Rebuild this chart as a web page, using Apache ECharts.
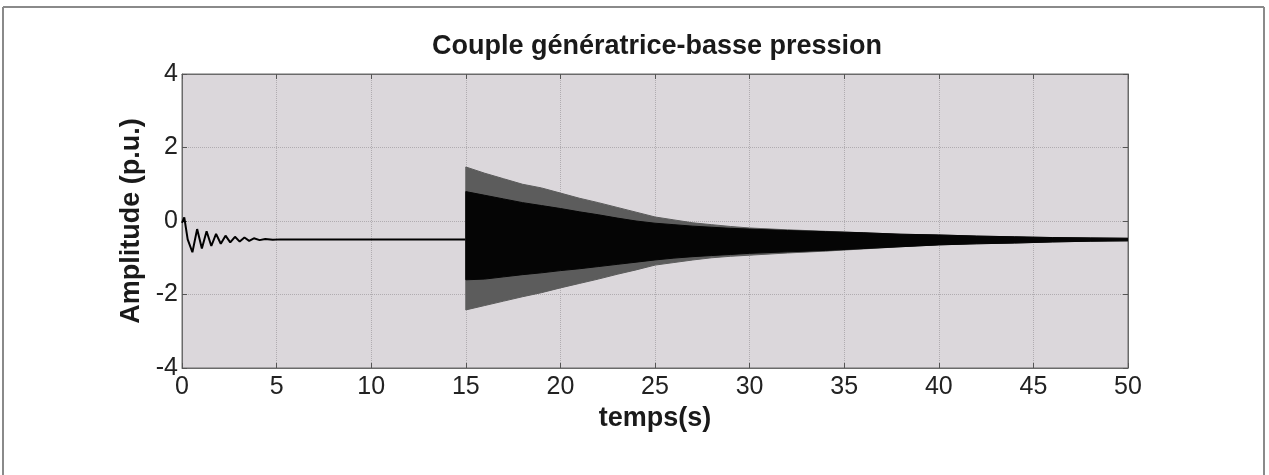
<!DOCTYPE html>
<html>
<head>
<meta charset="utf-8">
<script src="https://cdn.jsdelivr.net/npm/echarts@6/dist/echarts.min.js"></script>
<style>
html,body{margin:0;padding:0;background:#fff;}
#chart{width:1269px;height:475px;}
</style>
</head>
<body>
<div id="chart"></div>
<script>
// ---- data ----
const titleText = "Couple génératrice-basse pression";
const xName = "temps(s)";
const yName = "Amplitude (p.u.)";
const xTickValues = [0, 5, 10, 15, 20, 25, 30, 35, 40, 45, 50];
const yTickValues = [-4, -2, 0, 2, 4];

// start-up transient (time s, torque p.u.)
const transientTime  = [0, 0.12, 0.3, 0.55, 0.8, 1.05, 1.3, 1.55, 1.8, 2.05, 2.3, 2.55, 2.8, 3.05, 3.3, 3.55, 3.8, 4.1, 4.4, 4.8, 5.2, 10, 15];
const transientValue = [-0.05, 0.1, -0.5, -0.85, -0.22, -0.75, -0.28, -0.68, -0.35, -0.62, -0.4, -0.58, -0.43, -0.56, -0.45, -0.54, -0.47, -0.52, -0.49, -0.51, -0.5, -0.5, -0.5];

// envelope of the fast oscillation after the disturbance at t = 15 s
const envTime    = [15, 16, 17, 18, 19, 20, 21, 22, 23, 24, 25, 26, 27, 28, 29, 30, 32, 34, 36, 38, 40, 42, 44, 46, 48, 50];
const outerUpper = [1.47, 1.3, 1.15, 1.0, 0.9, 0.76, 0.62, 0.5, 0.37, 0.24, 0.11, 0.03, -0.05, -0.1, -0.15, -0.19, -0.24, -0.28, -0.32, -0.36, -0.38, -0.41, -0.43, -0.45, -0.46, -0.47];
const outerLower = [-2.42, -2.3, -2.18, -2.06, -1.95, -1.82, -1.7, -1.58, -1.45, -1.33, -1.2, -1.13, -1.06, -1.0, -0.96, -0.93, -0.87, -0.82, -0.76, -0.7, -0.65, -0.62, -0.6, -0.57, -0.55, -0.54];
const innerUpper = [0.8, 0.7, 0.6, 0.5, 0.42, 0.34, 0.25, 0.17, 0.08, 0.0, -0.06, -0.1, -0.14, -0.17, -0.2, -0.22, -0.26, -0.29, -0.32, -0.36, -0.38, -0.41, -0.43, -0.45, -0.46, -0.47];
const innerLower = [-1.6, -1.58, -1.52, -1.46, -1.41, -1.35, -1.3, -1.24, -1.18, -1.12, -1.06, -1.01, -0.97, -0.94, -0.91, -0.88, -0.84, -0.8, -0.75, -0.7, -0.65, -0.62, -0.6, -0.57, -0.55, -0.54];

// ---- chart ----
const FONT = '"Liberation Sans", Arial, sans-serif';
const chart = echarts.init(document.getElementById('chart'), null, {renderer: 'canvas'});

function band(times, up, lo, color, z) {
  return {
    type: 'custom',
    xAxisIndex: 0, yAxisIndex: 0,
    data: [0],
    z: z,
    silent: true,
    clip: true,
    renderItem: function (params, api) {
      const pts = [];
      for (let i = 0; i < times.length; i++) pts.push(api.coord([times[i], up[i]]));
      for (let i = times.length - 1; i >= 0; i--) pts.push(api.coord([times[i], lo[i]]));
      return {type: 'polygon', shape: {points: pts}, style: {fill: color, stroke: color, lineWidth: 1}};
    }
  };
}

const transientData = transientTime.map((t, i) => [t, transientValue[i]]);

const option = {
  animation: false,
  backgroundColor: '#ffffff',
  title: {
    text: titleText,
    left: 652, top: 28, textAlign: 'center',
    textStyle: {fontFamily: FONT, fontSize: 27, fontWeight: 'bold', color: '#1a1a1a'}
  },
  grid: {
    left: 182, right: 141, top: 74, bottom: 107,
    show: true, backgroundColor: '#dbd7db', borderColor: '#6a6a6a', borderWidth: 1
  },
  xAxis: [{
    type: 'value', min: 0, max: 50, interval: 5, position: 'bottom',
    name: xName, nameLocation: 'middle', nameGap: 30,
    nameTextStyle: {fontFamily: FONT, fontSize: 27, fontWeight: 'bold', color: '#1a1a1a'},
    axisLine: {show: true, onZero: false, lineStyle: {color: '#6a6a6a', width: 1}},
    axisTick: {show: true, inside: true, length: 5, lineStyle: {color: '#555'}},
    axisLabel: {fontFamily: FONT, fontSize: 25, color: '#222', margin: 7,
      formatter: v => xTickValues.includes(v) ? String(v) : ''},
    splitLine: {show: true, lineStyle: {color: '#b0acb0', type: 'dotted', width: 1}}
  }, {
    type: 'value', min: 0, max: 50, interval: 5, position: 'top',
    axisLine: {show: true, onZero: false, lineStyle: {color: '#6a6a6a', width: 1}},
    axisTick: {show: true, inside: true, length: 5, lineStyle: {color: '#555'}},
    axisLabel: {show: false}, splitLine: {show: false}
  }],
  yAxis: [{
    type: 'value', min: -4, max: 4, interval: 2, position: 'left',
    name: yName, nameLocation: 'middle', nameGap: 34,
    nameTextStyle: {fontFamily: FONT, fontSize: 27, fontWeight: 'bold', color: '#1a1a1a'},
    axisLine: {show: true, onZero: false, lineStyle: {color: '#6a6a6a', width: 1}},
    axisTick: {show: true, inside: true, length: 5, lineStyle: {color: '#555'}},
    axisLabel: {fontFamily: FONT, fontSize: 25, color: '#222', margin: 4,
      formatter: v => yTickValues.includes(v) ? String(v) : ''},
    splitLine: {show: true, lineStyle: {color: '#b0acb0', type: 'dotted', width: 1}}
  }, {
    type: 'value', min: -4, max: 4, interval: 2, position: 'right',
    axisLine: {show: true, onZero: false, lineStyle: {color: '#6a6a6a', width: 1}},
    axisTick: {show: true, inside: true, length: 5, lineStyle: {color: '#555'}},
    axisLabel: {show: false}, splitLine: {show: false}
  }],
  series: [
    {
      type: 'line', xAxisIndex: 0, yAxisIndex: 0,
      data: transientData, showSymbol: false, symbol: 'none',
      lineStyle: {color: '#000', width: 2}, z: 3
    },
    band(envTime, outerUpper, outerLower, '#5c5c5c', 4),
    band(envTime, innerUpper, innerLower, '#050505', 5)
  ],
  graphic: [
    {type: 'line', shape: {x1: 3, y1: 7, x2: 1264, y2: 7}, style: {stroke: '#8a8a8a', lineWidth: 2}},
    {type: 'line', shape: {x1: 3, y1: 7, x2: 3, y2: 475}, style: {stroke: '#8a8a8a', lineWidth: 2}},
    {type: 'line', shape: {x1: 1264, y1: 7, x2: 1264, y2: 475}, style: {stroke: '#8a8a8a', lineWidth: 2}}
  ]
};
chart.setOption(option);
</script>
</body>
</html>
